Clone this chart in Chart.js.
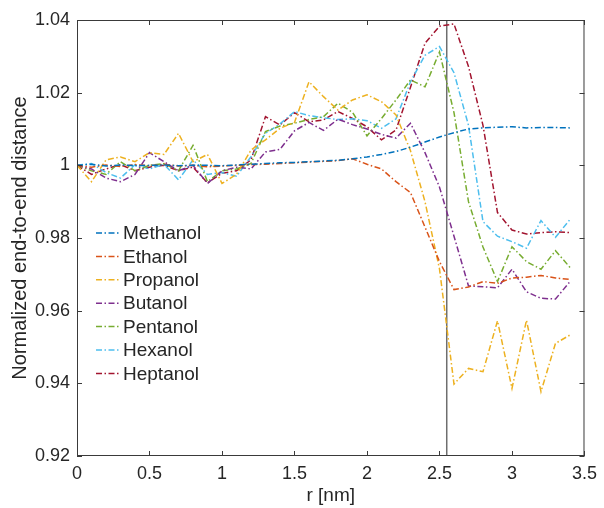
<!DOCTYPE html>
<html>
<head>
<meta charset="utf-8">
<script src="https://cdn.jsdelivr.net/npm/chart.js@4.4.1/dist/chart.umd.min.js"></script>
<style>
  html, body { margin: 0; padding: 0; background: #fff; }
  #wrap { width: 604px; height: 508px; }
</style>
</head>
<body>
<div id="wrap"><canvas id="distance-graph" width="604" height="508"></canvas></div>
<script>
const rValues = [0, 0.1, 0.2, 0.3, 0.4, 0.5, 0.6, 0.7, 0.8, 0.9, 1.0, 1.1, 1.2, 1.3, 1.4, 1.5, 1.6,
    1.7, 1.8, 1.9, 2.0, 2.1, 2.2, 2.3, 2.4, 2.5, 2.6, 2.7, 2.8, 2.9, 3.0, 3.1, 3.2, 3.3, 3.4];

const methanol = [1.0000, 1.0003, 0.9998, 1.0001, 0.9999, 1.0000, 1.0001, 0.9999, 1.0000, 1.0000, 0.9999, 1.0001,
    1.0003, 1.0005, 1.0007, 1.0008, 1.0010, 1.0012, 1.0014, 1.0018, 1.0023, 1.0030, 1.0038, 1.0050, 1.0064,
    1.0078, 1.0090, 1.0100, 1.0103, 1.0105, 1.0106, 1.0103, 1.0104, 1.0104, 1.0103];
const ethanol = [1.0000, 0.9995, 1.0001, 0.9997, 1.0002, 0.9999, 1.0003, 0.9998, 1.0000, 0.9996, 0.9998, 1.0000,
    1.0002, 1.0003, 1.0005, 1.0007, 1.0009, 1.0011, 1.0013, 1.0018, 1.0003, 0.9990, 0.9955, 0.9925, 0.9830,
    0.9735, 0.9658, 0.9665, 0.9680, 0.9675, 0.9690, 0.9692, 0.9697, 0.9690, 0.9686];
const propanol = [1.0000, 0.9955, 1.0015, 1.0023, 1.0010, 1.0035, 1.0030, 1.0088, 1.0010, 1.0030, 0.9950, 0.9975,
    1.0042, 1.0070, 1.0102, 1.0118, 1.0230, 1.0189, 1.0152, 1.0180, 1.0194, 1.0175, 1.0139, 1.0040, 0.9900,
    0.9715, 0.9398, 0.9441, 0.9432, 0.9572, 0.9386, 0.9574, 0.9377, 0.9510, 0.9533];
const butanol = [1.0000, 0.9990, 0.9965, 0.9955, 0.9975, 1.0035, 1.0010, 0.9985, 1.0000, 0.9950, 0.9985, 0.9995,
    0.9990, 1.0037, 1.0044, 1.0095, 1.0118, 1.0096, 1.0127, 1.0112, 1.0100, 1.0085, 1.0075, 1.0116, 1.0035,
    0.9940, 0.9805, 0.9668, 0.9666, 0.9663, 0.9714, 0.9652, 0.9634, 0.9632, 0.9680];
const pentanol = [1.0000, 0.9985, 0.9975, 1.0010, 0.9985, 1.0000, 1.0005, 0.9985, 1.0055, 0.9955, 0.9985, 0.9990,
    1.0005, 1.0093, 1.0108, 1.0116, 1.0126, 1.0134, 1.0171, 1.0146, 1.0081, 1.0129, 1.0180, 1.0235, 1.0216,
    1.0312, 1.0145, 0.9900, 0.9775, 0.9680, 0.9776, 0.9735, 0.9714, 0.9765, 0.9719];
const hexanol = [1.0000, 1.0005, 0.9980, 0.9965, 1.0002, 0.9990, 1.0003, 0.9960, 1.0015, 0.9975, 0.9980, 0.9970,
    1.0024, 1.0088, 1.0114, 1.0148, 1.0137, 1.0131, 1.0126, 1.0128, 1.0123, 1.0102, 1.0128, 1.0230, 1.0303,
    1.0327, 1.0255, 1.0110, 0.9845, 0.9805, 0.9790, 0.9772, 0.9848, 0.9802, 0.9851];
const heptanol = [1.0000, 0.9975, 0.9990, 1.0002, 0.9985, 0.9995, 1.0000, 0.9985, 0.9995, 0.9952, 0.9978, 0.9985,
    1.0015, 1.0134, 1.0111, 1.0145, 1.0120, 1.0125, 1.0148, 1.0129, 1.0106, 1.0070, 1.0097, 1.0215, 1.0336,
    1.0383, 1.0389, 1.0272, 1.0110, 0.9870, 0.9822, 0.9811, 0.9815, 0.9817, 0.9815];

const seriesNames = ["Methanol", "Ethanol", "Propanol", "Butanol", "Pentanol", "Hexanol", "Heptanol"];
const seriesValues = [methanol, ethanol, propanol, butanol, pentanol, hexanol, heptanol];
const seriesColors = ["#0072BD", "#D95319", "#EDB120", "#7E2F8E", "#77AC30", "#4DBEEE", "#A2142F"];

const cutoff = 2.55;
const xTicks = [0, 0.5, 1, 1.5, 2, 2.5, 3, 3.5];
const yTicks = [0.92, 0.94, 0.96, 0.98, 1, 1.02, 1.04];

const fontFamily = "'Liberation Sans', Arial, Helvetica, sans-serif";
const textColor = "#262626";
const dashDot = [6, 2.5, 1.5, 2.5];

const datasets = seriesNames.map((name, i) => ({
    label: name,
    data: rValues.map((r, j) => ({ x: r, y: seriesValues[i][j] })),
    borderColor: seriesColors[i],
    borderWidth: 1.5,
    borderDash: dashDot,
    pointRadius: 0,
    showLine: true,
    tension: 0,
}));

// the vertical marker line
datasets.push({
    label: "cutoff",
    data: [{ x: cutoff, y: yTicks[0] }, { x: cutoff, y: yTicks[yTicks.length - 1] }],
    borderColor: "#6e6e6e",
    borderWidth: 1.5,
    pointRadius: 0,
    showLine: true,
});

// box round the axes + ticks pointing inward on all four sides
const axisBox = {
    id: "axisBox",
    afterDatasetsDraw(chart) {
        const { ctx, chartArea: a, scales } = chart;
        ctx.save();
        ctx.strokeStyle = "#3a3a3a";
        ctx.lineWidth = 1;
        ctx.strokeRect(a.left + 0.5, a.top + 0.5, a.right - a.left - 1, a.bottom - a.top - 1);
        ctx.beginPath();
        scales.x.ticks.forEach((t) => {
            const px = Math.round(scales.x.getPixelForValue(t.value)) + 0.5;
            ctx.moveTo(px, a.bottom);
            ctx.lineTo(px, a.bottom - 5);
            ctx.moveTo(px, a.top);
            ctx.lineTo(px, a.top + 5);
        });
        scales.y.ticks.forEach((t) => {
            const py = Math.round(scales.y.getPixelForValue(t.value)) + 0.5;
            ctx.moveTo(a.left, py);
            ctx.lineTo(a.left + 5, py);
            ctx.moveTo(a.right, py);
            ctx.lineTo(a.right - 5, py);
        });
        ctx.stroke();
        ctx.restore();
    },
};

// legend drawn inside the plot, no frame
const insideLegend = {
    id: "insideLegend",
    afterDraw(chart) {
        const { ctx, chartArea: a } = chart;
        ctx.save();
        ctx.font = "19px " + fontFamily;
        ctx.textBaseline = "middle";
        ctx.fillStyle = textColor;
        seriesNames.forEach((name, i) => {
            const yy = a.top + 213 + i * 23.4;
            ctx.strokeStyle = seriesColors[i];
            ctx.lineWidth = 1.5;
            ctx.setLineDash(dashDot);
            ctx.beginPath();
            ctx.moveTo(a.left + 19, yy);
            ctx.lineTo(a.left + 43, yy);
            ctx.stroke();
            ctx.fillText(name, a.left + 46, yy + 1);
        });
        ctx.restore();
    },
};

new Chart(document.getElementById("distance-graph"), {
    type: "scatter",
    data: { datasets: datasets },
    options: {
        responsive: false,
        animation: false,
        layout: { padding: { top: 20, right: 17, left: 0, bottom: 0 } },
        plugins: {
            legend: { display: false },
            tooltip: { enabled: false },
        },
        scales: {
            x: {
                type: "linear",
                min: 0,
                max: 3.5,
                afterBuildTicks: (s) => { s.ticks = xTicks.map((v) => ({ value: v })); },
                afterFit: (s) => { s.height = 52; },
                grid: { display: false, drawTicks: false },
                border: { display: false },
                ticks: {
                    padding: 7,
                    maxRotation: 0,
                    color: textColor,
                    font: { family: fontFamily, size: 18 },
                    callback: (v) => String(v),
                },
                title: {
                    display: true,
                    text: "r [nm]",
                    color: textColor,
                    font: { family: fontFamily, size: 19 },
                    padding: { top: 0, bottom: 1 },
                },
            },
            y: {
                type: "linear",
                min: 0.92,
                max: 1.04,
                afterBuildTicks: (s) => { s.ticks = yTicks.map((v) => ({ value: v })); },
                afterFit: (s) => { s.width = 77; },
                grid: { display: false, drawTicks: false },
                border: { display: false },
                ticks: {
                    padding: 7,
                    color: textColor,
                    font: { family: fontFamily, size: 18 },
                    callback: (v) => String(Math.round(v * 100) / 100),
                },
                title: {
                    display: true,
                    text: "Normalized end-to-end distance",
                    color: textColor,
                    font: { family: fontFamily, size: 20 },
                    padding: { top: 8, bottom: 0 },
                },
            },
        },
    },
    plugins: [axisBox, insideLegend],
});
</script>
</body>
</html>
